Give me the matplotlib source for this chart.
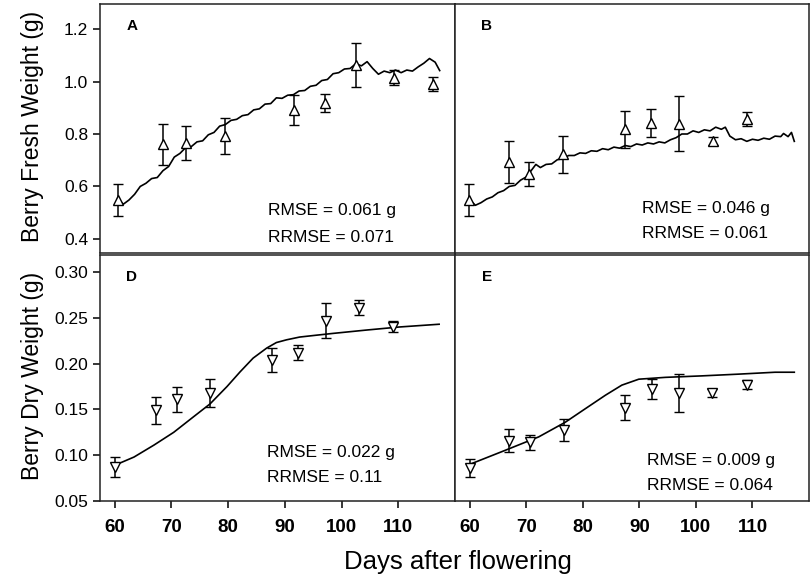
import numpy as np
import matplotlib.pyplot as plt

plt.rcParams['font.family'] = ['Liberation Sans', 'DejaVu Sans']

# ==========================
# data
# ==========================
# A - berry fresh weight, observed
a_days = [60.5, 68.5, 72.6, 79.5, 91.6, 97.1, 102.5, 109.3, 116.1]
a_obs = [0.548, 0.760, 0.766, 0.792, 0.891, 0.918, 1.064, 1.015, 0.992]
a_err = [0.062, 0.077, 0.065, 0.070, 0.058, 0.033, 0.084, 0.028, 0.027]

# A - simulated
a_sim_days = [60.5, 61.5, 62.5, 63.5, 64.5, 65.5, 66.5, 67.5, 68.5, 69.5,
              70.5, 71.5, 72.5, 73.5, 74.5, 75.5, 76.5, 77.5, 78.5, 79.5,
              80.5, 81.5, 82.5, 83.5, 84.5, 85.5, 86.5, 87.5, 88.5, 89.5,
              90.5, 91.5, 92.5, 93.5, 94.5, 95.5, 96.5, 97.5, 98.5, 99.5,
              100.5, 101.5, 102.5, 103.5, 104.5, 105.5, 106.5, 107.5, 108.5, 109.5,
              110.5, 111.5, 112.5, 113.5, 114.5, 115.5, 116.5, 117.3]
a_sim = [0.555, 0.532, 0.548, 0.570, 0.600, 0.612, 0.630, 0.634, 0.660, 0.676,
         0.712, 0.726, 0.748, 0.752, 0.770, 0.774, 0.797, 0.806, 0.830, 0.836,
         0.852, 0.856, 0.870, 0.874, 0.892, 0.896, 0.914, 0.916, 0.938, 0.936,
         0.948, 0.950, 0.964, 0.966, 0.982, 0.986, 1.004, 1.008, 1.030, 1.034,
         1.048, 1.050, 1.068, 1.060, 1.076, 1.050, 1.028, 1.040, 1.034, 1.044,
         1.034, 1.044, 1.040, 1.056, 1.070, 1.088, 1.074, 1.042]

# B - berry fresh weight, observed
b_days = [59.9, 66.9, 70.5, 76.5, 87.5, 92.1, 97.0, 103.1, 109.1]
b_obs = [0.549, 0.692, 0.647, 0.722, 0.818, 0.843, 0.840, 0.773, 0.857]
b_err = [0.062, 0.080, 0.047, 0.070, 0.070, 0.054, 0.106, 0.015, 0.027]

# B - simulated
b_sim_days = [60.0, 61.0, 62.0, 63.0, 64.0, 65.0, 66.0, 67.0, 68.0, 69.0,
              70.0, 71.0, 71.7, 72.5, 73.5, 74.5, 75.5, 76.5, 77.5, 78.5,
              79.5, 80.5, 81.5, 82.5, 83.5, 84.5, 85.5, 86.5, 87.5, 88.5,
              89.5, 90.5, 91.5, 92.5, 93.5, 94.5, 95.5, 96.5, 97.5, 98.5,
              99.5, 100.5, 101.5, 102.5, 103.5, 104.5, 105.2, 106.0, 107.0, 108.0,
              109.0, 110.0, 111.0, 112.0, 113.0, 114.0, 115.0, 115.5, 116.3, 116.9,
              117.4]
b_sim = [0.550, 0.528, 0.538, 0.552, 0.560, 0.576, 0.584, 0.600, 0.604, 0.624,
         0.636, 0.664, 0.684, 0.672, 0.684, 0.686, 0.702, 0.706, 0.718, 0.718,
         0.728, 0.726, 0.736, 0.734, 0.744, 0.740, 0.750, 0.746, 0.756, 0.752,
         0.762, 0.758, 0.766, 0.762, 0.770, 0.766, 0.778, 0.786, 0.800, 0.800,
         0.812, 0.806, 0.816, 0.812, 0.826, 0.818, 0.826, 0.792, 0.778, 0.782,
         0.772, 0.780, 0.776, 0.784, 0.780, 0.792, 0.790, 0.802, 0.790, 0.806,
         0.772]

# D - berry dry weight
d_days = [60.0, 67.2, 70.9, 76.8, 87.7, 92.3, 97.2, 103.0, 109.1]
d_obs = [0.087, 0.149, 0.161, 0.168, 0.204, 0.212, 0.247, 0.261, 0.240]
d_err = [0.011, 0.015, 0.014, 0.015, 0.013, 0.008, 0.019, 0.008, 0.006]
d_sim_days = [60.0, 63.4, 66.9, 70.4, 73.9, 76.8, 79.8, 82.1, 84.4, 86.8,
              88.5, 90.3, 92.6, 95.5, 98.5, 104.3, 110.2, 117.2]
d_sim = [0.089, 0.098, 0.111, 0.125, 0.142, 0.156, 0.175, 0.191, 0.206, 0.217,
         0.223, 0.226, 0.229, 0.231, 0.233, 0.2366, 0.240, 0.243]

# E - berry dry weight
e_days = [60.0, 66.9, 70.6, 76.6, 87.5, 92.2, 97.0, 102.9, 109.1]
e_obs = [0.086, 0.116, 0.114, 0.128, 0.152, 0.172, 0.168, 0.168, 0.177]
e_err = [0.010, 0.013, 0.008, 0.012, 0.014, 0.011, 0.021, 0.004, 0.005]
e_sim_days = [60.0, 66.3, 72.2, 76.9, 80.5, 84.0, 86.9, 89.9, 94.6, 101.0,
              107.5, 114.0, 117.4]
e_sim = [0.090, 0.1054, 0.120, 0.136, 0.151, 0.1655, 0.1765, 0.183, 0.185, 0.1866,
         0.1885, 0.1906, 0.1906]

stats = {
    'A': ('RMSE = 0.061 g', 'RRMSE = 0.071'),
    'B': ('RMSE = 0.046 g', 'RRMSE = 0.061'),
    'D': ('RMSE = 0.022 g', 'RRMSE = 0.11'),
    'E': ('RMSE = 0.009 g', 'RRMSE = 0.064'),
}

# ==========================
# layout
# ==========================
W, H = 810, 577
fig = plt.figure(figsize=(W / 100, H / 100), dpi=100)


def box(x0, y0, x1, y1):
    return [x0 / W, 1 - y1 / H, (x1 - x0) / W, (y1 - y0) / H]


ax_a = fig.add_axes(box(100, 4, 455, 253))
ax_b = fig.add_axes(box(455, 4, 809, 253))
ax_d = fig.add_axes(box(100, 255, 455, 501))
ax_e = fig.add_axes(box(455, 255, 809, 501))

panels = [
    (ax_a, 'A', a_days, a_obs, a_err, a_sim_days, a_sim, '^'),
    (ax_b, 'B', b_days, b_obs, b_err, b_sim_days, b_sim, '^'),
    (ax_d, 'D', d_days, d_obs, d_err, d_sim_days, d_sim, 'v'),
    (ax_e, 'E', e_days, e_obs, e_err, e_sim_days, e_sim, 'v'),
]

for ax, lab, xd, yd, ed, xs, ys, mk in panels:
    ax.plot(xs, ys, color='black', lw=1.2, zorder=2)
    ax.errorbar(xd, yd, yerr=ed, fmt=mk, ms=7, mfc='white', mec='black', mew=1.0,
                ecolor='black', elinewidth=1.1, capsize=3.5, capthick=1.1, zorder=3)
    ax.set_xlim(57.4, 120)
    ax.text(0.09, 0.94, lab, transform=ax.transAxes, fontsize=11, fontweight='bold',
            ha='center', va='top')
    for s in ax.spines.values():
        s.set_linewidth(1.1)
        s.set_color('#222222')
    ax.tick_params(direction='out', length=5, width=1.1)

# fresh weight row
for ax in (ax_a, ax_b):
    ax.set_ylim(0.346, 1.296)
    ax.set_xticks([])
ax_a.set_yticks([0.4, 0.6, 0.8, 1.0, 1.2])
ax_a.set_yticklabels(['0.4', '0.6', '0.8', '1.0', '1.2'], fontsize=12.5)
ax_b.set_yticks([])

# dry weight row
for ax in (ax_d, ax_e):
    ax.set_ylim(0.05, 0.3186)
    ax.set_xticks([60, 70, 80, 90, 100, 110])
    ax.set_xticklabels(['60', '70', '80', '90', '100', '110'], fontsize=13.5, fontweight='bold')
    ax.tick_params(axis='x', pad=8)
ax_d.set_yticks([0.05, 0.10, 0.15, 0.20, 0.25, 0.30])
ax_d.set_yticklabels(['0.05', '0.10', '0.15', '0.20', '0.25', '0.30'], fontsize=12.5)
ax_e.set_yticks([])

# RMSE annotations (pixel positions of first line, left aligned)
txt_pos = {'A': (268, 211), 'B': (642, 208), 'D': (267, 452), 'E': (647, 460)}
for lab, (px, py) in txt_pos.items():
    l1, l2 = stats[lab]
    fig.text(px / W, 1 - py / H, l1, fontsize=12.5, ha='left', va='center')
    fig.text(px / W, 1 - (py + 26) / H, l2, fontsize=12.5, ha='left', va='center')

fig.text(33 / W, 1 - 126 / H, 'Berry Fresh Weight (g)', rotation=90, fontsize=16.5,
         ha='center', va='center')
fig.text(33 / W, 1 - 376 / H, 'Berry Dry Weight (g)', rotation=90, fontsize=16.5,
         ha='center', va='center')
fig.text(458 / W, 1 - 562 / H, 'Days after flowering', fontsize=18.5,
         ha='center', va='center')

fig.savefig('out.png', dpi=100)
